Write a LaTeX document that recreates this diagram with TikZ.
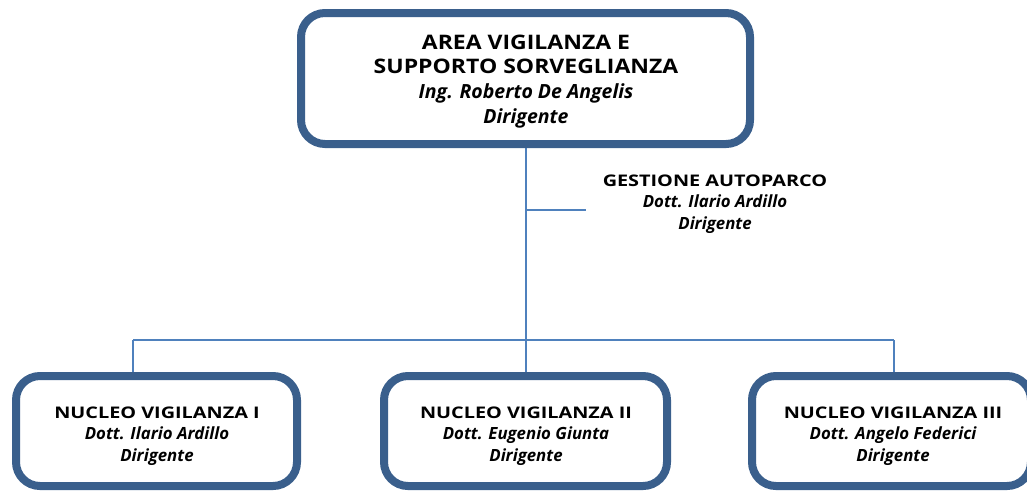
\documentclass[tikz,border=0pt]{standalone}
\usepackage{fontspec}
\setmainfont{Open Sans}
\newfontfamily\capsbig[FakeStretch=1.15]{Open Sans}
\newfontfamily\capssmall[FakeStretch=1.24]{Open Sans}
\definecolor{boxblue}{HTML}{3A5F8C}
\definecolor{lineblue}{HTML}{4F81BD}
\begin{document}
\begin{tikzpicture}[x=1pt,y=-1pt,
  orgbox/.style={draw=boxblue,line width=8pt,rounded corners=24pt,fill=white},
  conn/.style={draw=lineblue,line width=1.5pt},
  txt/.style={anchor=base,inner sep=0pt},
  bigcaps/.style={txt,font=\capsbig\bfseries\fontsize{20}{25}\selectfont},
  bigit/.style={txt,font=\bfseries\itshape\fontsize{19.5}{25}\selectfont},
  smallcaps/.style={txt,font=\capssmall\bfseries\fontsize{16}{22}\selectfont},
  smallit/.style={txt,font=\bfseries\itshape\fontsize{16.8}{22}\selectfont}]
\useasboundingbox (0,0) rectangle (1027,491);
\begin{scope}
\clip (0,0) rectangle (1027,491);
% connectors
\coordinate (top) at (526,148);
\coordinate (junc) at (526,340);
\coordinate (gbr) at (526,210);
\coordinate (gend) at (586,210);
\coordinate (l) at (133,340);
\coordinate (r) at (894,340);
\draw[conn] (top) -- (junc);
\draw[conn] (gbr) -- (gend);
\draw[conn] (l) -- (r);
\draw[conn] (l) -- (133,376);
\draw[conn] (junc) -- (526,376);
\draw[conn] (r) -- (894,376);
% boxes
\draw[orgbox] (301,13) rectangle (750,144);
\draw[orgbox] (16,376) rectangle (297,486);
\draw[orgbox] (384,376) rectangle (667,486);
\draw[orgbox] (752,376) rectangle (1031,486);
\end{scope}
% texts
\node[bigcaps] (t1) at (526,49.3) {AREA VIGILANZA E};
\node[bigcaps] (t2) at (526,73.3) {SUPPORTO SORVEGLIANZA};
\node[bigit] (t3) at (526,98.3) {Ing. Roberto De Angelis};
\node[bigit] (t4) at (526,123.3) {Dirigente};
\node[smallcaps] (g1) at (715,186.7) {GESTIONE AUTOPARCO};
\node[smallit] (g2) at (715,207.7) {Dott. Ilario Ardillo};
\node[smallit] (g3) at (715,229.3) {Dirigente};
\node[smallcaps] (a1) at (157,418.3) {NUCLEO VIGILANZA I};
\node[smallit] (a2) at (157,439) {Dott. Ilario Ardillo};
\node[smallit] (a3) at (157,461) {Dirigente};
\node[smallcaps] (b1) at (526,418.3) {NUCLEO VIGILANZA II};
\node[smallit] (b2) at (526,439) {Dott. Eugenio Giunta};
\node[smallit] (b3) at (526,461) {Dirigente};
\node[smallcaps] (c1) at (893,418.3) {NUCLEO VIGILANZA III};
\node[smallit] (c2) at (893,439) {Dott. Angelo Federici};
\node[smallit] (c3) at (893,461) {Dirigente};
\end{tikzpicture}
\end{document}
